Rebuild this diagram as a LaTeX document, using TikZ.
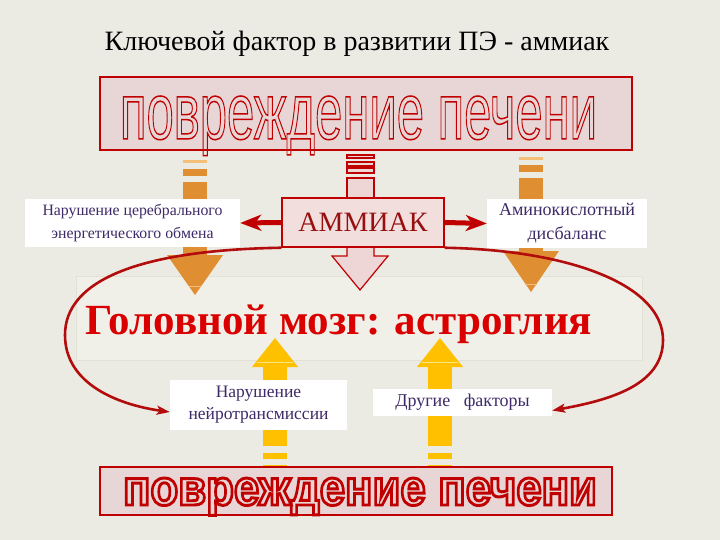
\documentclass[tikz,border=0pt]{standalone}
\usepackage{fontspec}
\setmainfont{Liberation Serif}
\newfontfamily\arialf{Liberation Sans}
\usepackage{graphicx}
\usetikzlibrary{arrows.meta}
\newcommand\strokedtext[2]{\special{pdf:literal direct 1 Tr #1 w}#2\special{pdf:literal direct 0 Tr}}
\definecolor{bg}{RGB}{236,235,227}
\definecolor{boxred}{RGB}{192,0,0}
\definecolor{pinkfill}{RGB}{232,214,214}
\definecolor{pinkbox}{RGB}{242,222,221}
\definecolor{pinklight}{RGB}{238,214,214}
\definecolor{ammtxt}{RGB}{150,16,16}
\definecolor{orangeA}{RGB}{224,142,50}
\definecolor{orangeL}{RGB}{242,192,120}
\definecolor{goldA}{RGB}{255,192,0}
\definecolor{goldL}{RGB}{255,228,130}
\definecolor{labeltxt}{RGB}{62,42,104}
\definecolor{brainred}{RGB}{218,0,0}
\definecolor{ellred}{RGB}{178,12,12}
\definecolor{faintbox}{RGB}{240,239,232}
\definecolor{faintedge}{RGB}{226,225,214}
\tikzset{
  labelbox/.style={fill=white, inner sep=0pt, text=labeltxt, align=center},
  bigbox/.style={draw=boxred, line width=2pt, fill=pinkfill, inner sep=0pt},
  sidearrow/.style={draw=boxred, line width=5pt, -{Stealth[length=21pt,width=16pt,inset=6pt]}},
  loop/.style={draw=ellred, line width=2.6pt, -{Stealth[length=13pt,width=9pt,inset=3pt]}},
  outlinepart/.style={draw=boxred, line width=1.2pt, fill=pinklight}
}
\begin{document}
\begin{tikzpicture}[x=1pt,y=-1pt]
\useasboundingbox (0,0) rectangle (720,540);
\fill[bg] (0,0) rectangle (720,540);

% title
\node[font=\fontsize{28}{32}\selectfont] (title) at (357,44) {Ключевой фактор в развитии ПЭ - аммиак};

% top box
\node[bigbox, minimum width=532pt, minimum height=73pt] (topbox) at (366,113.5) {};
\node[inner sep=0pt, anchor=base] (toptext) at (358.5,139) {\resizebox{477pt}{43pt}{\arialf\fontsize{48}{50}\selectfont\color{boxred}\strokedtext{0.9}{повреждение печени}}};

% faint band behind brain text
\fill[faintbox, draw=faintedge, line width=0.8pt] (76,276) rectangle (642,360);

% left orange arrow
\fill[orangeL] (183,160) rectangle (207,163);
\fill[orangeA] (183,169) rectangle (207,176);
\fill[orangeA] (183,182) rectangle (207,256);
\fill[orangeA] (167,255) -- (223,255) -- (195,295) -- cycle;
\draw[orangeL, line width=1pt] (189,286) -- (201,286);

% right orange arrow
\fill[orangeL] (519,157) rectangle (543,160);
\fill[orangeA] (519,165) rectangle (543,172);
\fill[orangeA] (519,178) rectangle (543,252);
\fill[orangeA] (503,251) -- (559,251) -- (531,292) -- cycle;
\draw[orangeL, line width=1pt] (525,284) -- (537,284);

% centre outlined arrow
\draw[outlinepart] (347,155) rectangle (374,158);
\draw[outlinepart] (347,162) rectangle (374,166);
\draw[outlinepart] (347,168) rectangle (374,173);
\draw[outlinepart] (347,178) rectangle (374,205);
\draw[outlinepart] (347,240) -- (347,256) -- (332,256) -- (360,290) -- (388,256) -- (374,256) -- (374,240) -- cycle;

% yellow arrows
\fill[goldA] (252,367) -- (298,367) -- (275,338) -- cycle;
\draw[goldL, line width=1pt] (257,362) -- (293,362);
\fill[goldA] (263,367) rectangle (287,446);
\fill[goldA] (263,453) rectangle (287,459);
\fill[goldA] (263,465) rectangle (287,469);

\fill[goldA] (417,367) -- (463,367) -- (440,338) -- cycle;
\draw[goldL, line width=1pt] (422,362) -- (458,362);
\fill[goldA] (428,367) rectangle (452,446);
\fill[goldA] (428,453) rectangle (452,459);
\fill[goldA] (428,465) rectangle (452,469);

% nodes
\node[draw=boxred, line width=1.5pt, fill=pinkbox, minimum width=162pt, minimum height=49pt, inner sep=0pt, font=\fontsize{28}{30}\selectfont, text=ammtxt] (ammiak) at (363,222.5) {АММИАК};
\node[labelbox, minimum width=215pt, minimum height=48pt, font=\fontsize{15.8}{23}\selectfont] (cereb) at (132.5,223) {Нарушение церебрального\\энергетического обмена};
\node[labelbox, minimum width=160pt, minimum height=49pt, font=\fontsize{18}{24}\selectfont] (amino) at (567,223.5) {Аминокислотный\\дисбаланс};
\node[font=\bfseries\fontsize{43}{46}\selectfont, text=brainred, anchor=base west, inner sep=0pt] (brain) at (85,334) {Головной мозг: астроглия};
\node[labelbox, minimum width=177pt, minimum height=50pt, font=\fontsize{17.5}{22}\selectfont] (neuro) at (258.5,405) {Нарушение\\нейротрансмиссии};
\node[labelbox, minimum width=179pt, minimum height=27pt, font=\fontsize{18}{20}\selectfont] (other) at (462.5,402.5) {Другие\ \ \ факторы};

% bottom box
\node[bigbox, minimum width=512pt, minimum height=48pt] (botbox) at (356,491) {};
\node[inner sep=0pt, anchor=base] (bottext) at (360,505) {\resizebox{474pt}{27pt}{\arialf\bfseries\fontsize{44}{46}\selectfont\color{boxred}\strokedtext{2.6}{повреждение печени}}};

% red side arrows
\draw[sidearrow] (ammiak.west) -- (cereb.east);
\draw[sidearrow] (ammiak.east) -- (amino.west);

% loop arrows
\draw[loop] (ammiak.south west) .. controls (140,250) and (65,280) .. (65,335) .. controls (65,385) and (120,405) .. ([yshift=-7pt]neuro.west);
\draw[loop] (ammiak.south east) .. controls (570,250) and (663,285) .. (663,340) .. controls (663,385) and (610,400) .. ([yshift=-8pt]other.east);
\end{tikzpicture}
\end{document}
